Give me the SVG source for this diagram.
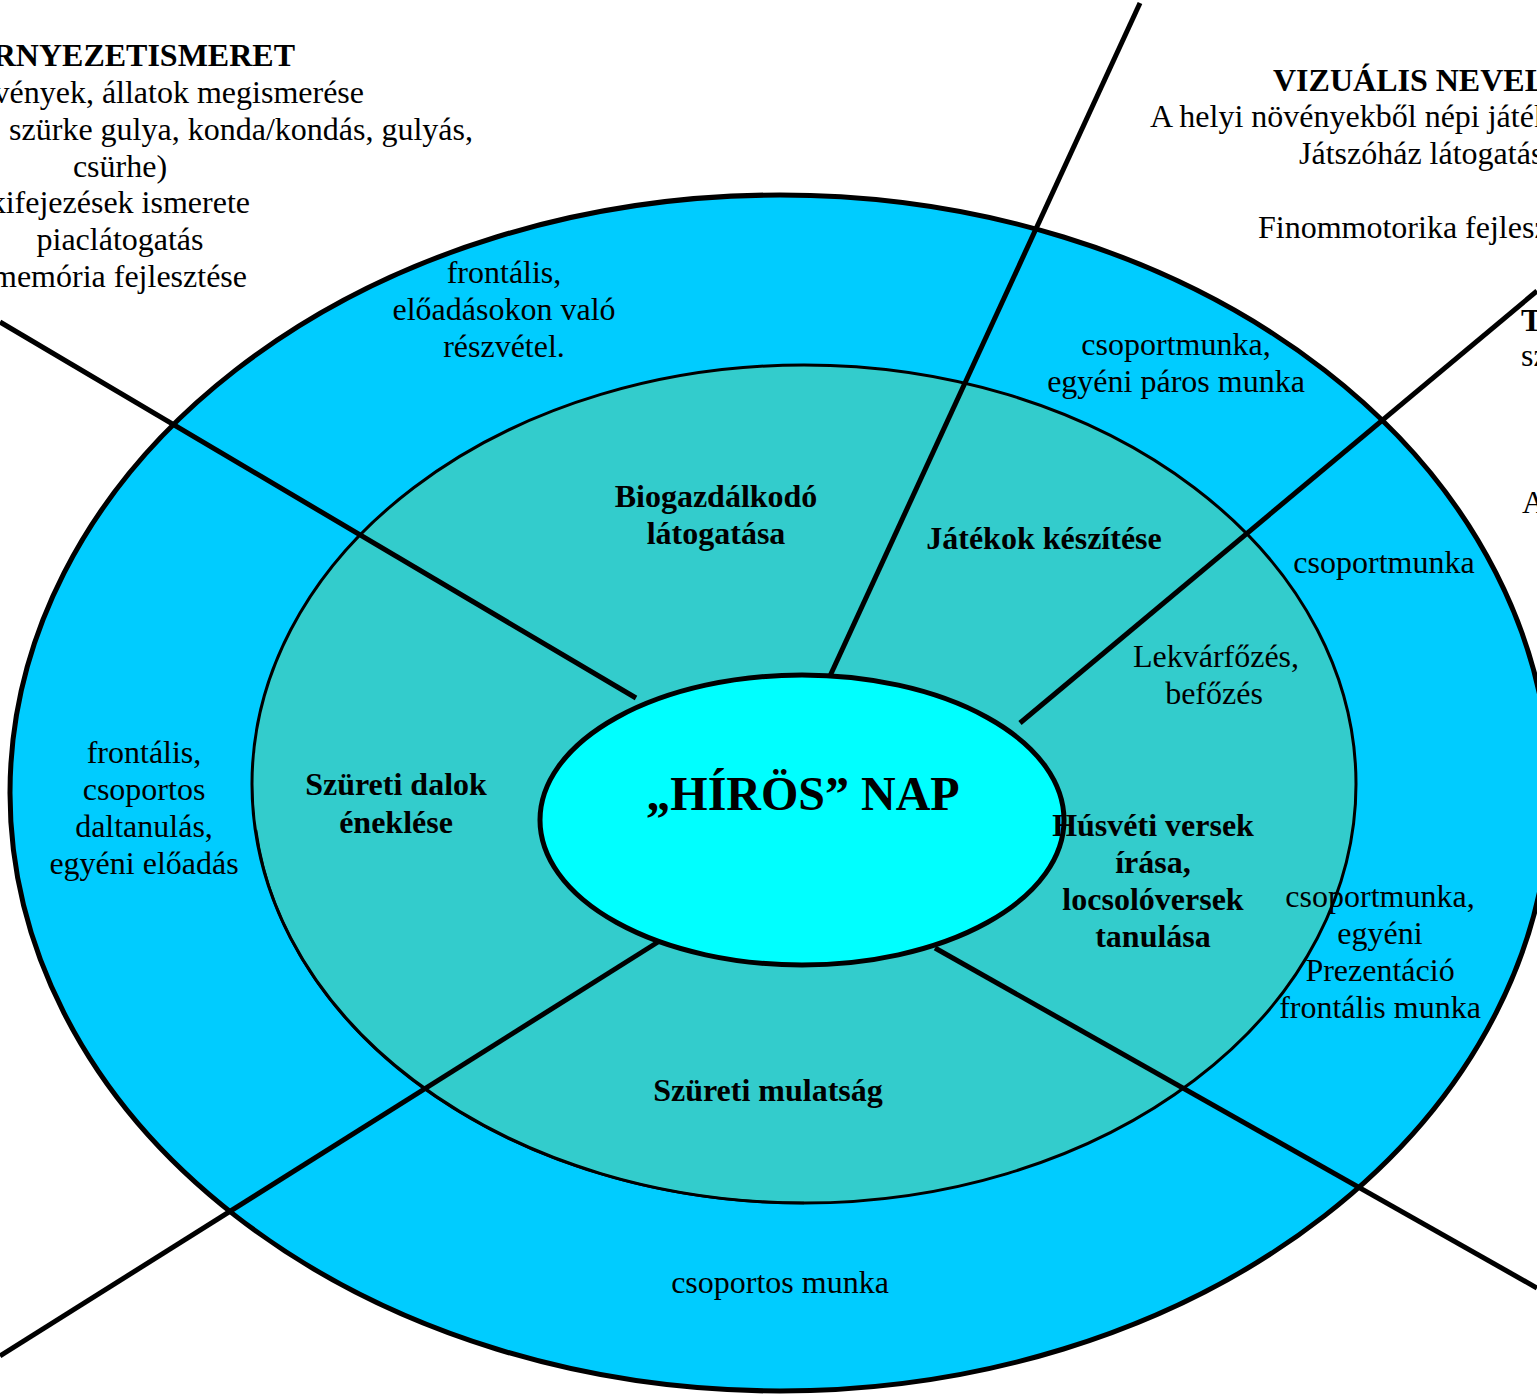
<svg xmlns="http://www.w3.org/2000/svg" width="1537" height="1394" viewBox="0 0 1537 1394">
<style>
  text { font-family: "Liberation Serif", "Times New Roman", serif; font-size: 32px; fill: #000; }
  .b { font-weight: bold; }
  .m { text-anchor: middle; }
  .e { text-anchor: end; }
  .sep { stroke: #000; stroke-width: 5; fill: none; }
</style>
<rect width="1537" height="1394" fill="#fff"/>
<g id="outer-ring">
  <ellipse cx="780" cy="793" rx="770" ry="598" fill="#00CCFF" stroke="#000" stroke-width="5"/>
</g>
<g id="inner-ring">
  <ellipse cx="804" cy="784" rx="552" ry="419" fill="#33CCCC" stroke="#000" stroke-width="3"/>
  <path d="M 256 830 A 549 416 0 0 0 804 1203" fill="none" stroke="#000" stroke-width="2.5"/>
</g>
<g id="connectors">
  <line class="sep" x1="0" y1="322" x2="636" y2="698"/>
  <line class="sep" x1="1140" y1="3" x2="830" y2="676"/>
  <line class="sep" x1="1537" y1="291" x2="1020" y2="723"/>
  <line class="sep" x1="935" y1="948" x2="1537" y2="1288"/>
  <line class="sep" x1="658" y1="942" x2="0" y2="1356"/>
</g>
<g id="center">
  <ellipse cx="802" cy="820" rx="262" ry="145" fill="#00FFFF" stroke="#000" stroke-width="5"/>
  <text class="b m" x="803" y="810" style="font-size:48px">„HÍRÖS” NAP</text>
</g>
<g id="kornyezetismeret">
  <text class="b e" x="295" y="66">RNYEZETISMERET</text>
  <text class="e" x="364" y="103">vények, állatok megismerése</text>
  <text class="e" x="473" y="140">, szürke gulya, konda/kondás, gulyás,</text>
  <text class="m" x="120" y="177">csürhe)</text>
  <text class="e" x="250" y="213">kifejezések ismerete</text>
  <text class="m" x="120" y="250">piaclátogatás</text>
  <text class="e" x="247" y="287">memória fejlesztése</text>
</g>
<g id="vizualis">
  <text class="b" x="1273" y="91">VIZUÁLIS NEVEL</text>
  <text x="1150" y="127">A helyi növényekből népi játék</text>
  <text x="1299" y="164">Játszóház látogatás</text>
  <text x="1258" y="238">Finommotorika fejlesz</text>
</g>
<g id="right-edge">
  <text class="b" x="1521" y="331">T</text>
  <text x="1521" y="366">sz</text>
  <text x="1522" y="513">A</text>
</g>
<g id="biogazdalkodo">
  <text class="m" x="504" y="283">frontális,</text>
  <text class="m" x="504" y="320">előadásokon való</text>
  <text class="m" x="504" y="357">részvétel.</text>
  <text class="b m" x="716" y="507">Biogazdálkodó</text>
  <text class="b m" x="716" y="544">látogatása</text>
</g>
<g id="jatekok">
  <text class="m" x="1176" y="355">csoportmunka,</text>
  <text class="m" x="1176" y="392">egyéni páros munka</text>
  <text class="b m" x="1044" y="549">Játékok készítése</text>
</g>
<g id="lekvar">
  <text class="m" x="1384" y="573">csoportmunka</text>
  <text class="m" x="1216" y="667">Lekvárfőzés,</text>
  <text class="m" x="1214" y="704">befőzés</text>
</g>
<g id="husveti">
  <text class="b m" x="1153" y="836">Húsvéti versek</text>
  <text class="b m" x="1153" y="873">írása,</text>
  <text class="b m" x="1153" y="910">locsolóversek</text>
  <text class="b m" x="1153" y="947">tanulása</text>
  <text class="m" x="1380" y="907">csoportmunka,</text>
  <text class="m" x="1380" y="944">egyéni</text>
  <text class="m" x="1380" y="981">Prezentáció</text>
  <text class="m" x="1380" y="1018">frontális munka</text>
</g>
<g id="szureti-dalok">
  <text class="b m" x="396" y="795">Szüreti dalok</text>
  <text class="b m" x="396" y="833">éneklése</text>
  <text class="m" x="144" y="763">frontális,</text>
  <text class="m" x="144" y="800">csoportos</text>
  <text class="m" x="144" y="837">daltanulás,</text>
  <text class="m" x="144" y="874">egyéni előadás</text>
</g>
<g id="szureti-mulatsag">
  <text class="b m" x="768" y="1101">Szüreti mulatság</text>
  <text class="m" x="780" y="1293">csoportos munka</text>
</g>
</svg>
